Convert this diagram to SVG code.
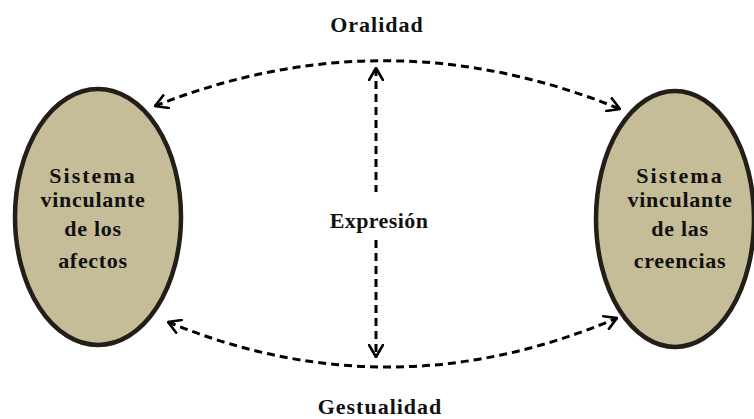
<svg xmlns="http://www.w3.org/2000/svg" width="754" height="419" viewBox="0 0 754 419">
  <style>
    .sys { fill: #c5bd98; stroke: #231f18; stroke-width: 4.5; }
    .lbl { font-family: 'Liberation Serif', 'Times New Roman', Tinos, 'DejaVu Serif', serif; font-weight: bold; font-size: 22px; fill: #111; text-anchor: middle; }
    .link { fill: none; stroke: #000; stroke-width: 3; stroke-dasharray: 8 5; }
  </style>
  <defs>
    <marker id="arrow" viewBox="0 0 14 16" refX="13" refY="8" markerWidth="14" markerHeight="16" markerUnits="userSpaceOnUse" orient="auto-start-reverse">
      <path d="M1,1 L13,8 L1,15" fill="none" stroke="#000" stroke-width="2.6" stroke-linecap="round" stroke-linejoin="round"/>
    </marker>
  </defs>
  <rect width="754" height="419" fill="#fff"/>

  <g id="connectors">
    <path class="link" d="M155,106 Q387,14 620,109" marker-start="url(#arrow)" marker-end="url(#arrow)"/>
    <path class="link" d="M168,322 Q392,414 617,318" marker-start="url(#arrow)" marker-end="url(#arrow)"/>
    <path class="link" d="M376,68 L376,192" marker-start="url(#arrow)"/>
    <path class="link" d="M376,240 L376,357" marker-end="url(#arrow)"/>
  </g>

  <g id="afectos">
    <ellipse class="sys" cx="98" cy="217" rx="83" ry="128"/>
    <text class="lbl" x="93" y="183" letter-spacing="2">Sistema</text>
    <text class="lbl" x="93" y="207" letter-spacing="0.7">vinculante</text>
    <text class="lbl" x="93" y="236" letter-spacing="0.7">de los</text>
    <text class="lbl" x="93" y="268" letter-spacing="0.7">afectos</text>
  </g>

  <g id="creencias">
    <ellipse class="sys" cx="675" cy="219" rx="79" ry="128"/>
    <text class="lbl" x="680" y="183" letter-spacing="2">Sistema</text>
    <text class="lbl" x="680" y="207" letter-spacing="0.7">vinculante</text>
    <text class="lbl" x="680" y="236" letter-spacing="0.7">de las</text>
    <text class="lbl" x="680" y="268" letter-spacing="0.7">creencias</text>
  </g>

  <g id="oralidad">
    <text class="lbl" x="377" y="32" letter-spacing="1">Oralidad</text>
  </g>
  <g id="expresion">
    <text class="lbl" x="379" y="228" letter-spacing="0.4">Expresión</text>
  </g>
  <g id="gestualidad">
    <text class="lbl" x="380" y="414" letter-spacing="1">Gestualidad</text>
  </g>
</svg>
